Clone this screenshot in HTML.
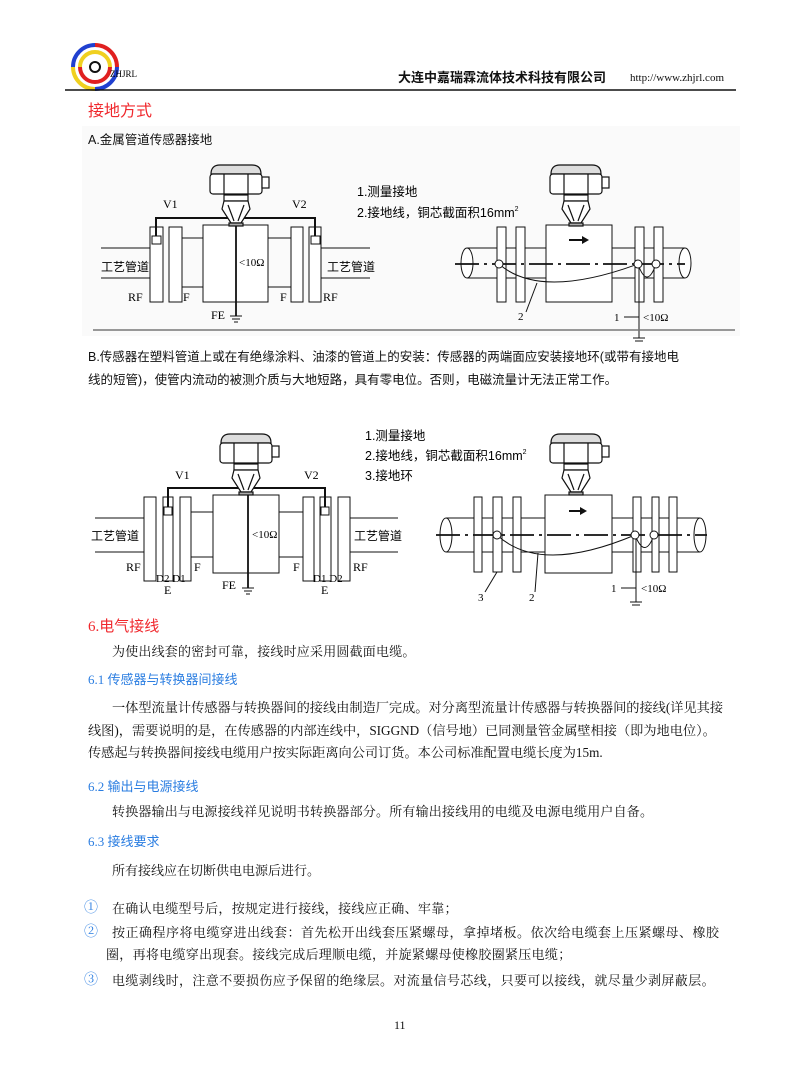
<!DOCTYPE html>
<html><head><meta charset="utf-8">
<style>
html,body{margin:0;padding:0;background:#fff;}
body{width:802px;height:1080px;position:relative;overflow:hidden;font-family:"Liberation Serif","Noto Serif CJK SC",serif;color:#111;}
.t{position:absolute;white-space:nowrap;line-height:1;}
.s{font-family:"Liberation Sans","Noto Sans CJK SC",sans-serif;}
.red{color:#f0282d;}
.blue{color:#2a7de1;}
svg{position:absolute;left:0;top:0;}
</style></head><body>
<div style="position:absolute;left:82px;top:126px;width:658px;height:210px;background:#fafafa;"></div>
<svg width="802" height="1080" viewBox="0 0 802 1080" font-family="Liberation Serif, Noto Serif CJK SC, serif">
<defs>
<g id="head" fill="#fff" stroke="#111" stroke-width="1.2">
  <path d="M-25,9 Q-25,0 -16,0 L16,0 Q25,0 25,9 Z" fill="#ddd"/>
  <rect x="-26" y="9" width="52" height="20" rx="3"/>
  <line x1="-12" y1="9" x2="-12" y2="29"/><line x1="12" y1="9" x2="12" y2="29"/>
  <rect x="26" y="12" width="7" height="11"/>
  <rect x="-12" y="30" width="24" height="6"/>
  <path d="M-12,36 L-14,44 L-5,58 L5,58 L14,44 L12,36 Z"/>
  <path d="M-8,40 L-2,56 M8,40 L2,56"/>
  <rect x="-7" y="58" width="14" height="3" fill="#aaa"/>
</g>
</defs>
<g stroke-width="4" fill="none">
<path d="M95,45 A22,22 0 0 1 117,67" stroke="#e02020"/>
<path d="M117,67 A22,22 0 0 1 95,89" stroke="#2040d0"/>
<path d="M95,89 A22,22 0 0 1 73,67" stroke="#f0d020"/>
<path d="M73,67 A22,22 0 0 1 95,45" stroke="#2040d0"/>
<path d="M95,52 A15,15 0 0 1 110,67" stroke="#f0d020"/>
<path d="M110,67 A15,15 0 0 1 95,82" stroke="#e02020"/>
<path d="M95,82 A15,15 0 0 1 80,67" stroke="#e02020"/>
<path d="M80,67 A15,15 0 0 1 95,52" stroke="#f0d020"/>
</g>
<circle cx="95" cy="67" r="5" fill="#fff" stroke="#111" stroke-width="2"/>
<text x="110" y="77" font-size="9">ZHJRL</text>
<line x1="65" y1="90" x2="736" y2="90" stroke="#111" stroke-width="1.5"/>

<g stroke="#111" stroke-width="1" fill="#fff">
<line x1="101" y1="248" x2="150" y2="248"/><line x1="101" y1="278" x2="150" y2="278"/>
<line x1="321" y1="248" x2="370" y2="248"/><line x1="321" y1="278" x2="370" y2="278"/>
<line x1="182" y1="238" x2="291" y2="238"/><line x1="182" y1="287" x2="291" y2="287"/>
<rect x="150" y="227" width="13" height="75"/><rect x="169" y="227" width="13" height="75"/>
<rect x="203" y="225" width="65" height="77"/>
<rect x="291" y="227" width="12" height="75"/><rect x="309" y="227" width="12" height="75"/>
<rect x="152" y="236" width="9" height="8"/><rect x="311" y="236" width="9" height="8"/>
<polyline points="156,236 156,218 315,218 315,236" fill="none" stroke-width="2"/>
<line x1="236" y1="222" x2="236" y2="316" stroke-width="1.8"/>
<line x1="230" y1="316" x2="242" y2="316"/><line x1="232" y1="319" x2="240" y2="319"/><line x1="234" y1="322" x2="238" y2="322"/>
</g>
<use href="#head" x="236" y="165"/>
<g font-size="12">
<text x="163" y="208">V1</text><text x="292" y="208">V2</text>
<text x="239" y="266" font-size="11">&lt;10Ω</text>
<text x="128" y="301">RF</text><text x="183" y="301">F</text><text x="280" y="301">F</text><text x="323" y="301">RF</text>
<text x="211" y="319">FE</text>
</g>
<text x="101" y="271" font-size="12" font-family="Liberation Sans, Noto Sans CJK SC, sans-serif">工艺管道</text>
<text x="327" y="271" font-size="12" font-family="Liberation Sans, Noto Sans CJK SC, sans-serif">工艺管道</text>

<g stroke="#111" stroke-width="1" fill="#fff">
<path d="M467,248 L685,248 M467,278 L685,278"/>
<ellipse cx="467" cy="263" rx="6" ry="15"/><ellipse cx="685" cy="263" rx="6" ry="15"/>
<rect x="497" y="227" width="9" height="75"/><rect x="516" y="227" width="9" height="75"/>
<rect x="546" y="225" width="66" height="77"/>
<rect x="635" y="227" width="9" height="75"/><rect x="654" y="227" width="9" height="75"/>
<line x1="455" y1="264" x2="685" y2="264" stroke-width="1.8" stroke-dasharray="24,5,3,5" fill="none"/>
<path d="M499,264 Q540,300 638,264" fill="none"/>
<path d="M638,264 Q647,290 656,264" fill="none"/>
<circle cx="499" cy="264" r="4"/><circle cx="638" cy="264" r="4"/><circle cx="656" cy="264" r="4"/>
<line x1="639" y1="268" x2="639" y2="338"/>
<line x1="633" y1="338" x2="645" y2="338"/><line x1="635" y1="341" x2="643" y2="341"/>
<line x1="526" y1="312" x2="537" y2="283"/>
<line x1="624" y1="317" x2="639" y2="317"/>
</g>
<path d="M569,239 L582,239 L582,236 L589,240 L582,244 L582,241 L569,241 Z" fill="#111"/>
<use href="#head" x="576" y="165"/>
<g font-size="11"><text x="518" y="320">2</text><text x="614" y="321">1</text><text x="643" y="321">&lt;10Ω</text></g>
<g font-size="12.5" font-family="Liberation Sans, Noto Sans CJK SC, sans-serif">
<text x="357" y="196">1.测量接地</text>
<text x="357" y="217">2.接地线，铜芯截面积16mm<tspan font-size="7" dy="-6">2</tspan></text>
</g>
<line x1="93" y1="330" x2="735" y2="330" stroke="#777" stroke-width="1.5"/>

<g stroke="#111" stroke-width="1" fill="#fff">
<line x1="95" y1="518" x2="144" y2="518"/><line x1="95" y1="552" x2="144" y2="552"/>
<line x1="350" y1="518" x2="398" y2="518"/><line x1="350" y1="552" x2="398" y2="552"/>
<line x1="191" y1="512" x2="303" y2="512"/><line x1="191" y1="557" x2="303" y2="557"/>
<rect x="144" y="497" width="12" height="84"/><rect x="163" y="497" width="10" height="84"/><rect x="180" y="497" width="11" height="84"/>
<rect x="213" y="495" width="66" height="78"/>
<rect x="303" y="497" width="11" height="84"/><rect x="320" y="497" width="11" height="84"/><rect x="338" y="497" width="12" height="84"/>
<rect x="164" y="507" width="8" height="8"/><rect x="321" y="507" width="8" height="8"/>
<polyline points="168,507 168,488 325,488 325,507" fill="none" stroke-width="2"/>
<line x1="248" y1="492" x2="248" y2="588" stroke-width="1.8"/>
<line x1="242" y1="588" x2="254" y2="588"/><line x1="244" y1="591" x2="252" y2="591"/><line x1="246" y1="594" x2="250" y2="594"/>
</g>
<use href="#head" x="246" y="434"/>
<g font-size="12">
<text x="175" y="479">V1</text><text x="304" y="479">V2</text>
<text x="252" y="538" font-size="11">&lt;10Ω</text>
<text x="126" y="571">RF</text><text x="194" y="571">F</text><text x="293" y="571">F</text><text x="353" y="571">RF</text>
<text x="156" y="582" font-size="11">D2 D1</text><text x="313" y="582" font-size="11">D1 D2</text>
<text x="164" y="594">E</text><text x="321" y="594">E</text>
<text x="222" y="589">FE</text>
</g>
<text x="91" y="540" font-size="12" font-family="Liberation Sans, Noto Sans CJK SC, sans-serif">工艺管道</text>
<text x="354" y="540" font-size="12" font-family="Liberation Sans, Noto Sans CJK SC, sans-serif">工艺管道</text>

<g stroke="#111" stroke-width="1" fill="#fff">
<path d="M446,518 L700,518 M446,552 L700,552"/>
<ellipse cx="446" cy="535" rx="6" ry="17"/><ellipse cx="700" cy="535" rx="6" ry="17"/>
<rect x="474" y="497" width="8" height="75"/><rect x="493" y="497" width="9" height="75"/><rect x="513" y="497" width="8" height="75"/>
<rect x="545" y="495" width="67" height="78"/>
<rect x="633" y="497" width="8" height="75"/><rect x="652" y="497" width="7" height="75"/><rect x="669" y="497" width="8" height="75"/>
<line x1="436" y1="535" x2="707" y2="535" stroke-width="1.8" stroke-dasharray="24,5,3,5" fill="none"/>
<path d="M497,535 Q540,575 635,535" fill="none"/>
<path d="M635,535 Q645,560 654,535" fill="none"/>
<circle cx="497" cy="535" r="4"/><circle cx="635" cy="535" r="4"/><circle cx="654" cy="535" r="4"/>
<line x1="636" y1="539" x2="636" y2="602"/>
<line x1="630" y1="602" x2="642" y2="602"/><line x1="632" y1="605" x2="640" y2="605"/>
<line x1="485" y1="592" x2="497" y2="572"/>
<line x1="535" y1="592" x2="538" y2="553"/>
<line x1="621" y1="588" x2="636" y2="588"/>
</g>
<path d="M569,510 L580,510 L580,507 L587,511 L580,515 L580,512 L569,512 Z" fill="#111"/>
<use href="#head" x="576" y="434"/>
<g font-size="11"><text x="478" y="601">3</text><text x="529" y="601">2</text><text x="611" y="592">1</text><text x="641" y="592">&lt;10Ω</text></g>
<g font-size="12.5" font-family="Liberation Sans, Noto Sans CJK SC, sans-serif">
<text x="365" y="440">1.测量接地</text>
<text x="365" y="460">2.接地线，铜芯截面积16mm<tspan font-size="7" dy="-6">2</tspan></text>
<text x="365" y="480">3.接地环</text>
</g>
</svg>

<div class="t s red" style="left:88px;top:104px;font-size:16px;">接地方式</div>
<div class="t s" style="left:88px;top:134px;font-size:12.5px;">A.金属管道传感器接地</div>
<div class="t s" style="left:88px;top:351px;font-size:12.5px;">B.传感器在塑料管道上或在有绝缘涂料、油漆的管道上的安装：传感器的两端面应安装接地环(或带有接地电</div>
<div class="t s" style="left:88px;top:374px;font-size:12.5px;">线的短管)，使管内流动的被测介质与大地短路，具有零电位。否则，电磁流量计无法正常工作。</div>

<div class="t red" style="left:88px;top:619px;font-size:15px;">6.<span class="s">电气接线</span></div>
<div class="t" style="left:112px;top:645px;font-size:13px;letter-spacing:0.2px;">为使出线套的密封可靠，接线时应采用圆截面电缆。</div>
<div class="t blue" style="left:88px;top:673px;font-size:13px;">6.1 <span class="s">传感器与转换器间接线</span></div>
<div class="t" style="left:112px;top:701px;font-size:13.2px;">一体型流量计传感器与转换器间的接线由制造厂完成。对分离型流量计传感器与转换器间的接线(详见其接</div>
<div class="t" style="left:88px;top:724px;font-size:13.2px;">线图)，需要说明的是，在传感器的内部连线中，SIGGND（信号地）已同测量管金属壁相接（即为地电位）。</div>
<div class="t" style="left:88px;top:746px;font-size:13.2px;">传感起与转换器间接线电缆用户按实际距离向公司订货。本公司标准配置电缆长度为15m.</div>
<div class="t blue" style="left:88px;top:780px;font-size:13px;">6.2 <span class="s">输出与电源接线</span></div>
<div class="t" style="left:112px;top:805px;font-size:13px;letter-spacing:0.2px;">转换器输出与电源接线祥见说明书转换器部分。所有输出接线用的电缆及电源电缆用户自备。</div>
<div class="t blue" style="left:88px;top:835px;font-size:13px;">6.3 <span class="s">接线要求</span></div>
<div class="t" style="left:112px;top:864px;font-size:13px;">所有接线应在切断供电电源后进行。</div>
<div class="t blue" style="left:84px;top:902px;font-size:14px;">①</div>
<div class="t" style="left:112px;top:902px;font-size:13px;letter-spacing:0.3px;">在确认电缆型号后，按规定进行接线，接线应正确、牢靠；</div>
<div class="t blue" style="left:84px;top:926px;font-size:14px;">②</div>
<div class="t" style="left:112px;top:926px;font-size:13px;letter-spacing:0.5px;">按正确程序将电缆穿进出线套：首先松开出线套压紧螺母，拿掉堵板。依次给电缆套上压紧螺母、橡胶</div>
<div class="t" style="left:106px;top:948px;font-size:13px;letter-spacing:0.3px;">圈，再将电缆穿出现套。接线完成后理顺电缆，并旋紧螺母使橡胶圈紧压电缆；</div>
<div class="t blue" style="left:84px;top:974px;font-size:14px;">③</div>
<div class="t" style="left:112px;top:974px;font-size:13px;letter-spacing:0.4px;">电缆剥线时，注意不要损伤应予保留的绝缘层。对流量信号芯线，只要可以接线，就尽量少剥屏蔽层。</div>
<div class="t" style="left:394px;top:1019px;font-size:12px;">11</div>

<div class="t s" style="left:398px;top:71px;font-size:13px;font-weight:bold;">大连中嘉瑞霖流体技术科技有限公司</div>
<div class="t" style="left:630px;top:73px;font-size:11px;">http://www.zhjrl.com</div>
</body></html>
